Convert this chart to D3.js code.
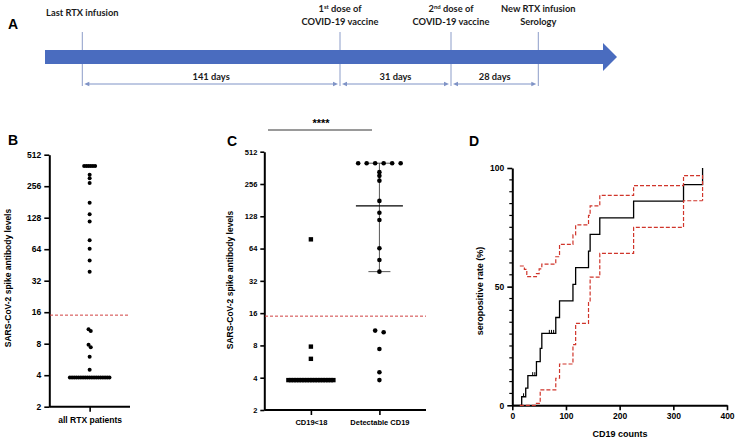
<!DOCTYPE html>
<html><head><meta charset="utf-8">
<script src="https://cdn.jsdelivr.net/npm/d3@7"></script>
<style>body{margin:0;background:#fff} svg{display:block}</style>
</head><body><svg id="c" width="740" height="440"></svg>
<script>
// ---------------- DATA ----------------
// Panel A: timeline
const eventTitles = ["Last RTX infusion", "1", "2", "New RTX infusion"];
const eventSup = ["", "st", "nd", ""];
const eventTitleRest = ["", " dose of", " dose of", ""];
const eventSubtitles = ["", "COVID-19 vaccine", "COVID-19 vaccine", "Serology"];
const eventDays = [0, 141, 172, 200];
const intervalLabels = ["141 days", "31 days", "28 days"];

// Panels B & C: antibody levels
const groupNames = ["CD19<18", "Detectable CD19"];
const cd19LowValues = [78, 7.8, 6.0,
  3.8, 3.8, 3.8, 3.8, 3.8, 3.8, 3.8, 3.8, 3.8,
  3.8, 3.8, 3.8, 3.8, 3.8, 3.8, 3.8, 3.8, 3.8];
const cd19DetValues = [400, 400, 400, 400, 400, 400, 330, 305, 275, 178, 138, 118,
  64.5, 50, 39, 11, 10.6, 7.4, 4.5, 3.8];
const detSummary = [39, 160, 400]; // Q1, median, Q3
const cutoff = 15;
const logTicks = [2, 4, 8, 16, 32, 64, 128, 256, 512];
const allLabel = ["all RTX patients"];

// Panel D: cumulative seropositive rate vs CD19 counts
const kmX = [0, 17.5, 25, 29, 45, 52, 55, 81, 88, 113, 118, 142, 145, 163, 226, 319, 354.5];
const kmY = [0, 3.6, 7.2, 12.5, 18.4, 24, 30.3, 37, 44, 51, 58, 65, 72, 79, 86, 93, 100];
const kmEnd = 354.5;
const censorX = [21, 38, 42, 69, 73, 77];
const censorY = [3.6, 12.5, 12.5, 30.3, 30.3, 30.3];
const upperX = [14, 22.5, 27, 45, 50, 55, 81, 88, 113, 118, 142, 145, 163, 226, 319];
const upperY = [58.7, 57.3, 54.2, 55.5, 57.5, 59.5, 62.6, 67.8, 71.8, 76, 80, 84, 88.5, 92.6, 96.8];
const lowerX = [14, 45, 52, 81, 88, 113, 118, 142, 145, 163, 226, 319];
const lowerY = [0, 0.8, 6.5, 11.4, 17.4, 25.6, 34.5, 43.3, 54, 64, 75, 86.2];
const dXTicks = [0, 100, 200, 300, 400];
const dYTicks = [0, 50, 100];

// ---------------- DRAW ----------------
const svg = d3.select("#c");
const F = "'Liberation Sans', Arial, sans-serif";
const AF = "Lato, 'Open Sans', sans-serif";

// ===== Panel A =====
const gA = svg.append("g");
const xA = d3.scaleLinear().domain(eventDays).range([82.3, 340, 451, 538.3]);
const lineCol = "#8c9dc9";
gA.append("text").attr("x", 8).attr("y", 29).attr("font-family", F).attr("font-weight", "bold")
  .attr("font-size", 14).text("A");
gA.selectAll("line.ev").data(eventDays).join("line").attr("class", "ev")
  .attr("x1", d => xA(d)).attr("x2", d => xA(d)).attr("y1", 32).attr("y2", 86)
  .attr("stroke", lineCol).attr("stroke-width", 1);
const barCol = "#4a6cbf";
gA.append("rect").attr("x", 45).attr("y", 50).attr("width", 559).attr("height", 14).attr("fill", barCol);
gA.append("path").attr("d", "M603,43 L617,57 L603,71 Z").attr("fill", barCol);
eventTitles.forEach((t, i) => {
  const x = xA(eventDays[i]);
  const two = eventSubtitles[i] !== "";
  const t1 = gA.append("text").attr("x", x).attr("y", two ? 11.5 : 16).attr("text-anchor", "middle")
    .attr("font-family", AF).attr("font-weight", "bold").attr("font-size", 9.3).attr("fill", "#1a1a1a");
  t1.append("tspan").text(t);
  if (eventSup[i]) t1.append("tspan").attr("font-size", 6).attr("dy", -3).text(eventSup[i]);
  if (eventTitleRest[i]) t1.append("tspan").attr("dy", eventSup[i] ? 3 : 0).text(eventTitleRest[i]);
  if (two) gA.append("text").attr("x", x).attr("y", 24.5).attr("text-anchor", "middle")
    .attr("font-family", AF).attr("font-weight", "bold").attr("font-size", 9.3).attr("fill", "#1a1a1a")
    .text(eventSubtitles[i]);
});
const intervals = intervalLabels.map((l, i) => ({ l, a: eventDays[i], b: eventDays[i + 1] }));
const arrCol = "#7f93c6";
intervals.forEach(d => {
  const x1 = xA(d.a) + 2, x2 = xA(d.b) - 2, y = 84;
  gA.append("line").attr("x1", x1 + 3).attr("x2", x2 - 3).attr("y1", y).attr("y2", y)
    .attr("stroke", arrCol).attr("stroke-width", 1);
  gA.append("path").attr("d", `M${x1},${y} L${x1 + 5},${y - 2.3} L${x1 + 5},${y + 2.3} Z`).attr("fill", arrCol);
  gA.append("path").attr("d", `M${x2},${y} L${x2 - 5},${y - 2.3} L${x2 - 5},${y + 2.3} Z`).attr("fill", arrCol);
  gA.append("text").attr("x", (xA(d.a) + xA(d.b)) / 2).attr("y", 80).attr("text-anchor", "middle")
    .attr("font-family", AF).attr("font-weight", "bold").attr("font-size", 9.3).attr("fill", "#1a1a1a").text(d.l);
});

function swarm(values, y, cx, maxSp, maxW, tol) {
  const s = values.slice().sort((a, b) => b - a);
  const rows = [];
  s.forEach(v => {
    const r = rows[rows.length - 1];
    if (r && Math.abs(Math.log2(r[0]) - Math.log2(v)) < tol) r.push(v); else rows.push([v]);
  });
  const out = [];
  rows.forEach(r => {
    const n = r.length;
    const sp = n > 1 ? Math.min(maxSp, maxW / (n - 1)) : 0;
    r.forEach((v, i) => out.push({ v, x: cx + (i - (n - 1) / 2) * sp, y: y(v) }));
  });
  return out;
}

function styleAxis(g, fs) {
  g.selectAll("path.domain").attr("stroke", "#000").attr("stroke-width", 2);
  g.selectAll(".tick line").attr("stroke", "#000").attr("stroke-width", 1.6);
  g.selectAll(".tick text").attr("font-family", F).attr("font-weight", "bold").attr("font-size", fs).attr("fill", "#000");
}

// ===== Panel B =====
const gB = svg.append("g");
const yB = d3.scaleLog().base(2).domain([2, 512]).range([406.7, 154.7]);
const xB = d3.scalePoint().domain(allLabel).range([49.3, 130]).padding(0.5);
gB.append("text").attr("x", 8).attr("y", 145).attr("font-family", F).attr("font-weight", "bold").attr("font-size", 14).text("B");
const axB = gB.append("g").attr("transform", "translate(49.3,0)")
  .call(d3.axisLeft(yB).tickValues(logTicks).tickFormat(d3.format("d")).tickSize(5).tickSizeOuter(0).tickPadding(3));
styleAxis(axB, 8.5);
const axBx = gB.append("g").attr("transform", "translate(0,406.7)")
  .call(d3.axisBottom(xB).tickSize(5).tickSizeOuter(0).tickPadding(5));
styleAxis(axBx, 8.5);
axBx.select("path.domain").attr("d", "M49.3,0H130");
gB.append("text").attr("transform", "translate(11,278) rotate(-90)").attr("text-anchor", "middle")
  .attr("font-family", F).attr("font-weight", "bold").attr("font-size", 8.5).text("SARS-CoV-2 spike antibody levels");
gB.append("line").attr("x1", 50).attr("x2", 128).attr("y1", yB(cutoff)).attr("y2", yB(cutoff))
  .attr("stroke", "#d04040").attr("stroke-width", 1).attr("stroke-dasharray", "3,2");
const allValues = cd19LowValues.concat(cd19DetValues);
gB.selectAll("circle").data(swarm(allValues, yB, xB(allLabel[0]), 2.2, 42, 0.08)).join("circle")
  .attr("cx", d => d.x).attr("cy", d => d.y).attr("r", 2).attr("fill", "#000");

// ===== Panel C =====
const gC = svg.append("g");
const yC = d3.scaleLog().base(2).domain([2, 512]).range([410, 151.7]);
const xC = d3.scalePoint().domain(groupNames).range([264.3, 426]).padding(0.68);
gC.append("text").attr("x", 227).attr("y", 146).attr("font-family", F).attr("font-weight", "bold").attr("font-size", 14).text("C");
const axC = gC.append("g").attr("transform", "translate(264.3,0)")
  .call(d3.axisLeft(yC).tickValues(logTicks).tickFormat(d3.format("d")).tickSize(4).tickSizeOuter(0).tickPadding(3));
styleAxis(axC, 7.5);
const axCx = gC.append("g").attr("transform", "translate(0,410)")
  .call(d3.axisBottom(xC).tickSize(5).tickSizeOuter(0).tickPadding(5));
styleAxis(axCx, 7.5);
axCx.select("path.domain").attr("d", "M264.3,0H426");
gC.append("text").attr("transform", "translate(233,280) rotate(-90)").attr("text-anchor", "middle")
  .attr("font-family", F).attr("font-weight", "bold").attr("font-size", 8.5).text("SARS-CoV-2 spike antibody levels");
gC.append("line").attr("x1", 265).attr("x2", 426).attr("y1", yC(cutoff)).attr("y2", yC(cutoff))
  .attr("stroke", "#d04040").attr("stroke-width", 1).attr("stroke-dasharray", "3,2");
gC.append("line").attr("x1", 268).attr("x2", 372).attr("y1", 130).attr("y2", 130).attr("stroke", "#000").attr("stroke-width", 0.8);
gC.append("text").attr("x", 321).attr("y", 127).attr("text-anchor", "middle").attr("font-family", F)
  .attr("font-weight", "bold").attr("font-size", 11).text("****");
const cx2 = xC(groupNames[1]);
gC.append("line").attr("x1", cx2).attr("x2", cx2).attr("y1", yC(detSummary[0])).attr("y2", yC(detSummary[2]))
  .attr("stroke", "#444").attr("stroke-width", 0.9);
[detSummary[0], detSummary[2]].forEach(v => gC.append("line").attr("x1", cx2 - 11).attr("x2", cx2 + 11)
  .attr("y1", yC(v)).attr("y2", yC(v)).attr("stroke", "#444").attr("stroke-width", 0.9));
gC.append("line").attr("x1", cx2 - 23.5).attr("x2", cx2 + 23.5).attr("y1", yC(detSummary[1])).attr("y2", yC(detSummary[1]))
  .attr("stroke", "#000").attr("stroke-width", 1.2);
gC.selectAll("rect.sq").data(swarm(cd19LowValues, yC, xC(groupNames[0]), 8.5, 45, 0.08)).join("rect").attr("class", "sq")
  .attr("x", d => d.x - 2.2).attr("y", d => d.y - 2.2).attr("width", 4.4).attr("height", 4.4).attr("fill", "#000");
gC.selectAll("circle").data(swarm(cd19DetValues, yC, cx2, 8.5, 45, 0.08)).join("circle")
  .attr("cx", d => d.x).attr("cy", d => d.y).attr("r", 2.3).attr("fill", "#000");

// ===== Panel D =====
const gD = svg.append("g");
const xD = d3.scaleLinear().domain([0, 400]).range([512.3, 727]);
const yD = d3.scaleLinear().domain([0, 100]).range([405.3, 168]);
gD.append("text").attr("x", 469).attr("y", 146).attr("font-family", F).attr("font-weight", "bold").attr("font-size", 14).text("D");
const axDy = gD.append("g").attr("transform", "translate(512.3,0)")
  .call(d3.axisLeft(yD).tickValues(dYTicks).tickSize(5).tickSizeOuter(0).tickPadding(3));
styleAxis(axDy, 8.5);
axDy.selectAll("line.minor").data(d3.range(5, 100, 5).filter(v => v !== 50)).join("line").attr("class", "minor")
  .attr("x1", -3).attr("x2", 0).attr("y1", d => yD(d)).attr("y2", d => yD(d)).attr("stroke", "#000").attr("stroke-width", 1.2);
const axDx = gD.append("g").attr("transform", "translate(0,405.3)")
  .call(d3.axisBottom(xD).tickValues(dXTicks).tickSize(5).tickSizeOuter(0).tickPadding(3));
styleAxis(axDx, 8.5);
gD.append("text").attr("transform", "translate(483,291) rotate(-90)").attr("text-anchor", "middle")
  .attr("font-family", F).attr("font-weight", "bold").attr("font-size", 9).text("seropositive rate (%)");
gD.append("text").attr("x", 620).attr("y", 437).attr("text-anchor", "middle")
  .attr("font-family", F).attr("font-weight", "bold").attr("font-size", 9).text("CD19 counts");

const stepLine = d3.line().x(d => xD(d[0])).y(d => yD(d[1])).curve(d3.curveStepAfter);
const kmPts = kmX.map((x, i) => [x, kmY[i]]);
gD.append("path").attr("d", stepLine(kmPts)).attr("fill", "none").attr("stroke", "#000").attr("stroke-width", 1.3);
const upPts = upperX.map((x, i) => [x, upperY[i]]).concat([[kmEnd, upperY[upperY.length - 1]], [kmEnd, lowerY[lowerY.length - 1]]]);
const loPts = lowerX.map((x, i) => [x, lowerY[i]]).concat([[kmEnd, lowerY[lowerY.length - 1]]]);
[upPts, loPts].forEach(p => gD.append("path").attr("d", stepLine(p)).attr("fill", "none")
  .attr("stroke", "#d0352b").attr("stroke-width", 1.2).attr("stroke-dasharray", "4,2"));
gD.selectAll("line.cens").data(censorX.map((x, i) => [x, censorY[i]])).join("line").attr("class", "cens")
  .attr("x1", d => xD(d[0])).attr("x2", d => xD(d[0])).attr("y1", d => yD(d[1])).attr("y2", d => yD(d[1]) - 3.5)
  .attr("stroke", "#000").attr("stroke-width", 1);
</script></body></html>
